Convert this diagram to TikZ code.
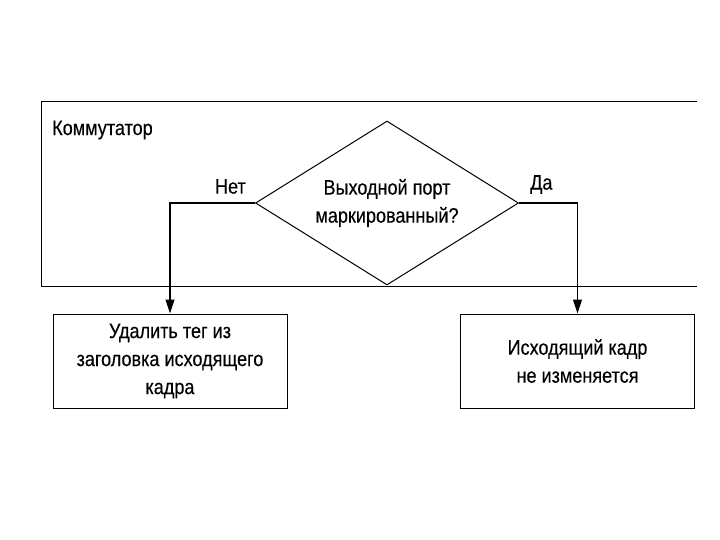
\documentclass[tikz,border=0pt]{standalone}
\usepackage{fontspec}
\setmainfont{Liberation Sans}[FakeStretch=0.86,FakeBold=0.3]
\usetikzlibrary{positioning,arrows.meta,shapes.geometric}

\begin{document}
\begin{tikzpicture}[x=1pt,y=-1pt,
      node distance=0.6cm,
      txt/.style={font=\fontsize{21}{28}\selectfont,align=center},
      box/.style={draw,line width=1pt,minimum width=234pt,minimum height=94pt,txt},
      decide/.style={draw,diamond,aspect=1.6,line width=1pt,inner sep=0pt,minimum width=263pt,minimum height=164pt,txt},
      flow/.style={line width=1.1pt,-{Triangle[length=14pt,width=9pt]}}]
    \useasboundingbox (0,0) rectangle (720,540);
    % switch frame, open on the right
    \draw[line width=1pt] (697,102) -- (41,102) -- (41,286) -- (697,286);
    \node[txt,anchor=west,inner sep=0pt] (sw) at (52,130) {Коммутатор};

    \node[decide] (port) at (387,203) {Выходной порт\\маркированный?};
    \node[box] (strip) at (170,361) {Удалить тег из\\заголовка исходящего\\кадра};
    \node[box] (keep) at (577.5,361) {Исходящий кадр\\не изменяется};

    \node[txt,inner sep=2pt,above left=7pt and 7pt of port.west] (no) {Нет};
    \node[txt,inner sep=2pt,above right=7pt and 9pt of port.east] (yes) {Да};

    \draw[flow] (port.west) -| (strip.north);
    \draw[flow] (port.east) -| (keep.north);
  \end{tikzpicture}
\end{document}
